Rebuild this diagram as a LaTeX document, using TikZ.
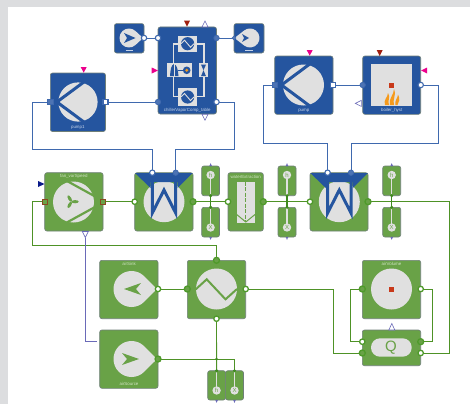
\documentclass[tikz,border=0pt]{standalone}
\usepackage{fontspec}
\setmainfont{Liberation Sans}
\usetikzlibrary{backgrounds}
\definecolor{bblue}{HTML}{25559F}
\definecolor{wblue}{HTML}{3F69AE}
\definecolor{pblue}{HTML}{4D74B4}
\definecolor{bgreen}{HTML}{69A247}
\definecolor{wgreen}{HTML}{4E9226}
\definecolor{pgreen}{HTML}{4F9A2B}
\definecolor{dgreen}{HTML}{3E8A1E}
\definecolor{lgray}{HTML}{E0E0E0}
\definecolor{bggray}{HTML}{DCDDDF}
\definecolor{edge}{HTML}{6F7F78}
\definecolor{purp}{HTML}{6A6AB8}
\definecolor{dred}{HTML}{A02010}
\definecolor{navy}{HTML}{0A1A8A}
\definecolor{brownp}{HTML}{8A4A20}
\definecolor{redsq}{HTML}{C8391A}
\definecolor{flame}{HTML}{F59A1C}
\definecolor{ltblue}{HTML}{C4D2E8}
\definecolor{ltgreen}{HTML}{CFE2C2}
\tikzset{
  blockbase/.style={rectangle,rounded corners=2.2pt,inner sep=0pt,outer sep=0pt,draw=edge,line width=.6pt},
  blueblock/.style={blockbase,fill=bblue},
  greenblock/.style={blockbase,fill=bgreen},
  portbase/.style={circle,inner sep=0pt,outer sep=0pt,minimum size=5.4pt},
  bopen/.style={portbase,fill=white,draw=wblue,line width=1.1pt},
  bfill/.style={portbase,fill=pblue,draw=wblue,line width=.8pt},
  gopen/.style={portbase,fill=white,draw=pgreen,line width=1.3pt},
  gfill/.style={portbase,fill=bgreen,draw=pgreen,line width=1.3pt,minimum size=6pt},
  bsqopen/.style={rectangle,inner sep=0pt,outer sep=0pt,minimum size=5pt,fill=white,draw=wblue,line width=1.1pt},
  bsqfill/.style={rectangle,inner sep=0pt,outer sep=0pt,minimum size=5.4pt,fill=pblue,draw=wblue,line width=.8pt},
  fansq/.style={rectangle,inner sep=0pt,outer sep=0pt,minimum size=5pt,fill=bgreen,draw=brownp,line width=1.1pt},
  dotj/.style={circle,inner sep=0pt,outer sep=0pt,minimum size=3.4pt,fill=dgreen},
  bluewire/.style={draw=wblue,line width=.9pt},
  greenwire/.style={draw=wgreen,line width=.9pt},
  purplewire/.style={draw=purp,line width=.7pt},
  blab/.style={text=ltblue,font=\fontsize{4.4}{5}\selectfont,inner sep=0pt},
  glab/.style={text=ltgreen,font=\fontsize{4.4}{5}\selectfont,inner sep=0pt},
  opentri/.style={draw=purp,fill=white,line width=.6pt},
  sens/.style={text=bgreen,font=\fontsize{6}{6}\selectfont,inner sep=0pt}
}
\newcommand\blk[6]{\pgfmathsetmacro\bw{#4-#2}\pgfmathsetmacro\bh{#5-#3}%
  \node[#6,minimum width=\bw pt,minimum height=\bh pt] (#1) at ({(#2+#4)/2},{(#3+#5)/2}) {};}
% drop: centre, radius, tip offset (signed)
\newcommand\drop[4]{%
  \pgfmathsetmacro\aa{acos(#3/abs(#4))}%
  \ifdim #4pt>0pt
  \fill[lgray] ({#1+#4},#2) -- ({#1+#3*cos(\aa)},{#2+#3*sin(\aa)}) arc[start angle=\aa,end angle=360-\aa,radius=#3] -- cycle;
  \else
  \fill[lgray] ({#1+#4},#2) -- ({#1-#3*cos(\aa)},{#2+#3*sin(\aa)}) arc[start angle=180-\aa,end angle=-180+\aa,radius=#3] -- cycle;
  \fi}
\newcommand\hxw[1]{%
  \begin{scope}[xshift=#1 pt]
  \fill[lgray] (164,201.7) circle[radius=20.5];
  \fill[bblue] (135,173) -- (192.5,173) -- (177.5,188) -- (177.5,182) -- (150.5,182) -- (150.5,188) -- cycle;
  \draw[bblue,line width=3pt,miter limit=10] (152.3,178) -- (152.3,213) -- (164,190) -- (175.7,213) -- (175.7,178);
  \end{scope}}
\newcommand\pumpicon[3]{%
  \fill[lgray] (#1,#2) circle[radius=#3];
  \draw[bblue,line width=3pt] ({#1-#3-1.5},#2) -- ({#1+#3*.3},{#2-#3*1.02});
  \draw[bblue,line width=3pt] ({#1-#3-1.5},#2) -- ({#1+#3*.3},{#2+#3*1.02});}
\newcommand\sensicon[4]{%
  \draw[lgray,line width=1.2pt] (#1,#2) -- (#1,#3);
  \fill[lgray] (#1,#2) circle[radius=4.2];
  \node[sens] at (#1,#2) {#4};}
\newcommand\chx[2]{%
  \fill[lgray] (178.3,#1) rectangle (197,#2);
  \pgfmathsetmacro\cy{(#1+#2)/2}
  \fill[bblue] (187.6,\cy) circle[radius=6.6];
  \draw[lgray,line width=.9pt] (181,\cy) -- (184.5,{\cy-3.5}) -- (190.5,{\cy+3.5}) -- (194,\cy);}
% small tip triangle: up/down at x, apex
\newcommand\tdown[4]{\path[#1] ({#2-3},#3) -- ({#2+3},#3) -- (#2,#4) -- cycle;}
\newcommand\tright[4]{\path[#1] (#2,{#3-3}) -- (#2,{#3+3}) -- (#4,#3) -- cycle;}
\begin{document}
\begin{tikzpicture}[x=1pt,y=-1pt]
\useasboundingbox (0,0) rectangle (470,404);

% ---------- blocks
\blk{srcA}{114.4}{23.6}{144}{53}{blueblock}
\blk{snkA}{234}{23.6}{264}{53}{blueblock}
\blk{chiller}{158}{27}{216.5}{114}{blueblock}
\blk{pumpA}{50.3}{73}{105.5}{131.5}{blueblock}
\blk{pumpB}{274.7}{56}{333}{114.3}{blueblock}
\blk{boiler}{362.7}{56}{420.7}{114.3}{blueblock}
\blk{fan}{44.7}{172.7}{103}{231}{greenblock}
\blk{hxA}{134.7}{172.7}{193}{231}{greenblock}
\blk{hsA}{201.7}{166}{219.5}{195.7}{greenblock}
\blk{xsA}{201.7}{207.3}{219.5}{237}{greenblock}
\blk{water}{228}{172.7}{263.3}{231}{greenblock}
\blk{hsB}{278}{166}{296}{195.7}{greenblock}
\blk{xsB}{278}{207.3}{296}{237}{greenblock}
\blk{hxB}{310}{172.7}{368}{231}{greenblock}
\blk{hsC}{382.7}{166}{400.7}{195.7}{greenblock}
\blk{xsC}{382.7}{207.3}{400.7}{237}{greenblock}
\blk{asink}{99.7}{260.3}{158}{318.7}{greenblock}
\blk{hxC}{187.3}{260.3}{245.7}{318.7}{greenblock}
\blk{asrc}{99.7}{330}{158}{388.3}{greenblock}
\blk{hsD}{207.7}{370.7}{225.6}{400}{greenblock}
\blk{xsD}{225.6}{370.7}{243.5}{400}{greenblock}
\blk{avol}{362.3}{260.3}{420.7}{318.7}{greenblock}
\blk{qblk}{362.3}{330}{420.7}{365.7}{greenblock}

% ---------- icons
\drop{129}{38}{9.5}{14}
\fill[bblue] (135.5,38) -- (124,33) -- (127,38) -- (124,43) -- cycle;
\draw[ltblue,line width=.5pt] (125.5,50) -- (133,50);
\drop{250}{38}{9.5}{-15.5}
\fill[bblue] (249,38) -- (242,34) -- (244,38) -- (242,42) -- cycle;
\draw[ltblue,line width=.5pt] (245,50) -- (253,50);

% chiller internals
\draw[lgray,line width=1.2pt] (173.3,96.7) -- (173.3,44) -- (204,44) -- (204,96.7) -- cycle;
\chx{35.7}{51.7}
\chx{88.3}{105.7}
\fill[lgray] (167.3,63.3) rectangle (192.3,77.3);
\fill[lgray] (199,63.3) rectangle (208,77.3);
\fill[bblue] (201,64.5) -- (206,64.5) -- (203.5,70.3) -- (206,76.2) -- (201,76.2) -- (203.5,70.3) -- cycle;
\fill[bblue] (170,76) .. controls (170.5,70) and (171,65) .. (174,64) .. controls (177,65) and (178,70) .. (178.5,76) -- cycle;
\draw[lgray,line width=.7pt] (174.2,63.5) -- (174.2,76.5);
\draw[bblue,line width=1.2pt] (178,70.3) -- (183,70.3);
\fill[bblue] (186.7,70.3) circle[radius=3.8];
\fill[flame] (186.7,70.3) circle[radius=1.6];

\pumpicon{78}{102}{19.6}
\pumpicon{303.5}{85}{20.5}

% boiler
\fill[lgray] (370.7,64) rectangle (412.3,106);
\fill[redsq] (389,82.5) rectangle (394,87.5);
\fill[flame] (385,105) .. controls (383,100) and (388,97) .. (388,93) .. controls (391,97) and (387,101) .. (389,105) -- cycle;
\fill[flame] (390,105) .. controls (388,99) and (394,95) .. (394,89) .. controls (397,94) and (392,100) .. (394,105) -- cycle;
\fill[flame] (395.5,105) .. controls (394,101) and (398,98) .. (398,94.5) .. controls (400.5,99) and (399,102) .. (397.5,105) -- cycle;

% fan
\fill[lgray] (73.5,202) circle[radius=20.5];
\draw[bgreen,line width=2.2pt] (67,181) -- (97,197.5);
\draw[bgreen,line width=2.2pt] (67,222.4) -- (97,205.9);
\foreach \ang in {0,120,240}{
  \fill[bgreen,shift={(71.5,201.7)},rotate=\ang] (3.6,0) ellipse[x radius=3.6,y radius=1.6];}

\hxw{0}
\hxw{175.3}

% water extraction
\fill[lgray] (236.7,181.7) rectangle (255,222.7);
\draw[bgreen,line width=.9pt,dash pattern=on 4pt off 1.5pt] (245.8,181.7) -- (245.8,222);
\draw[bgreen,line width=1pt] (236.7,214.5) -- (245.8,222) -- (255,214.5);

% sensors
\sensicon{210.6}{175}{195.7}{h}
\sensicon{210.6}{227.5}{207.3}{X}
\sensicon{287}{175}{195.7}{h}
\sensicon{287}{227.5}{207.3}{X}
\sensicon{391.7}{175}{195.7}{h}
\sensicon{391.7}{227.5}{207.3}{X}
\sensicon{216.6}{390.5}{370.7}{h}
\sensicon{234.5}{390.5}{370.7}{X}

% air sink / source
\drop{131.5}{289}{18}{25.5}
\fill[bgreen] (124,289) -- (141,283) -- (136,289) -- (141,295) -- cycle;
\drop{131.5}{359}{18}{25.5}
\fill[bgreen] (139,359) -- (122,353) -- (127,359) -- (122,365) -- cycle;

% HX3 zigzag and circle
\fill[lgray] (216.5,289) circle[radius=20.5];
\draw[bgreen,line width=2pt] (195,290) -- (206.7,279.3) -- (225.5,299.3) -- (237,289);

% air volume
\fill[lgray] (391.5,289) circle[radius=20.5];
\fill[redsq] (389,286.5) rectangle (394,291.5);

% Q
\fill[lgray,rounded corners=9pt] (371,338.3) rectangle (411.7,356.7);
\node[inner sep=0pt,text=bgreen,font=\fontsize{15}{15}\selectfont] (qtxt) at (391,347.5) {Q};

% ---------- labels
\node[blab] (lA) at (77.8,127) {pump1};
\node[blab] (lB) at (303.8,110.3) {pump};
\node[blab] (lC) at (391.7,110.3) {boiler\_hyst};
\node[blab] (lD) at (187.3,110.3) {chillerVaporComp\_table};
\node[glab] (lE) at (73.8,176.7) {fan\_varSpeed};
\node[glab] (lF) at (245.7,176.7) {waterExtraction};
\node[glab] (lG) at (129,264.3) {airSink};
\node[glab] (lH) at (129,384.2) {airSource};
\node[glab] (lI) at (391.5,264.3) {airVolume};

% ---------- ports
\node[bopen] (srcAp) at (144,38) {};
\node[bopen] (chA) at (158,38) {};
\node[bfill] (chB) at (216.5,38) {};
\node[bopen,minimum size=3pt] (snkAp) at (234,38) {};
\node[bfill] (chC) at (158,102) {};
\node[bopen] (chD) at (216.5,102) {};
\node[bsqfill] (puAl) at (50.3,102) {};
\node[bsqopen] (puAr) at (105.5,102) {};
\node[bsqfill] (puBl) at (274.7,85) {};
\node[bsqopen] (puBr) at (333,85) {};
\node[bfill] (boL) at (362.7,85) {};
\node[bopen] (boR) at (420.7,85) {};
\node[bopen] (hxAa) at (152.3,172.7) {};
\node[bfill] (hxAb) at (175.7,172.7) {};
\node[bopen] (hxBa) at (327.6,172.7) {};
\node[bfill] (hxBb) at (351,172.7) {};
\node[fansq] (faL) at (44.7,201.7) {};
\node[fansq] (faR) at (103,201.7) {};
\node[gopen] (hxAl) at (134.7,201.7) {};
\node[gfill] (hxAr) at (193,201.7) {};
\node[gopen] (waL) at (228,201.7) {};
\node[gfill] (waR) at (263.3,201.7) {};
\node[gopen] (hxBl) at (310,201.7) {};
\node[gfill] (hxBr) at (368,201.7) {};
\node[gopen] (siP) at (158,289) {};
\node[gfill] (soP) at (158,359) {};
\node[gfill] (hxCl) at (187.3,289) {};
\node[gfill] (hxCt) at (216.5,260.3) {};
\node[gopen] (hxCr) at (245.7,289) {};
\node[gopen] (hxCb) at (216.5,318.7) {};
\node[gfill] (voL) at (362.3,289) {};
\node[gopen] (voR) at (420.7,289) {};
\node[gopen] (qLa) at (362.3,341.7) {};
\node[gfill] (qLb) at (362.3,353) {};
\node[gfill] (qRa) at (420.7,341.7) {};
\node[gopen] (qRb) at (420.7,353) {};
% sensor junctions
\node[dotj] (jAh) at (210.6,195.7) {};
\node[dotj] (jAx) at (210.6,207.3) {};
\node[dotj] (jBh) at (287,195.7) {};
\node[dotj] (jBx) at (287,207.3) {};
\node[dotj] (jCh) at (391.7,195.7) {};
\node[dotj] (jCx) at (391.7,207.3) {};
\node[dotj] (jDh) at (216.6,370.7) {};
\node[dotj] (jDx) at (234.5,370.7) {};
\node[dotj,minimum size=2.8pt] (jDm) at (216.6,359) {};

% ---------- control triangles
\tright{fill=magenta}{151.7}{70.5}{158}
\tdown{fill=magenta}{83.7}{67}{72.7}
\tdown{fill=magenta}{309.7}{50}{55.7}
\tright{fill=magenta}{427}{70.5}{421}
\tdown{fill=dred}{187}{20.7}{26.7}
\tdown{fill=dred}{379.7}{50}{56}
\tright{fill=navy}{38}{184}{44.5}
\tdown{opentri}{205}{27}{21}
\tdown{opentri}{205}{114.3}{120.3}
\tdown{opentri}{85.3}{231.5}{237.5}
\tdown{opentri}{391.8}{330}{323.5}
\tright{opentri}{361.3}{103.4}{355.3}
\foreach \tx in {210.6,287,391.7}{
  \fill[purp] ({\tx-1.3},166) -- ({\tx+1.3},166) -- (\tx,163.2) -- cycle;
  \fill[purp] ({\tx-1.3},237) -- ({\tx+1.3},237) -- (\tx,239.8) -- cycle;}
\foreach \tx in {216.6,234.5}{
  \fill[purp] ({\tx-1.3},400) -- ({\tx+1.3},400) -- (\tx,402.8) -- cycle;}

% ---------- waypoints
\coordinate (wa) at (32.3,149.3);
\coordinate (wb) at (234,149.3);
\coordinate (wc) at (263,143.7);
\coordinate (wd) at (438.5,143.7);
\coordinate (we) at (32.5,245.5);
\coordinate (wf) at (449.7,353);
\coordinate (wg) at (333,353);
\coordinate (wh) at (350.5,341.7);
\coordinate (wi) at (432.5,341.7);
\coordinate (wj) at (234.5,359);
\coordinate (wk) at (96.7,341.7);
\coordinate (fanctl) at (85.3,237.5);

% ---------- background and connectors
\begin{scope}[on background layer]
\fill[bggray] (0,0) rectangle (470,404);
\fill[white] (8,7) rectangle (470,404);
\draw[bluewire] (srcAp.center) -- (chA.center);
\draw[bluewire] (chB.center) -- (snkAp.center);
\draw[bluewire] (puAr.center) -- (chC.center);
\draw[bluewire] (puBr.center) -- (boL.center);
\draw[bluewire] (puAl.center) -| (wa) -| (hxAa.center);
\draw[bluewire] (chD.center) -| (wb) -| (hxAb.center);
\draw[bluewire] (puBl.center) -| (wc) -| (hxBa.center);
\draw[bluewire] (boR.center) -| (wd) -| (hxBb.center);
\draw[greenwire] (faR.center) -- (hxAl.center);
\draw[greenwire] (hxAr.center) -- (waL.center);
\draw[greenwire] (waR.center) -- (hxBl.center);
\draw[greenwire] (faL.center) -| (we) -| (hxCt.center);
\draw[greenwire] (hxBr.center) -| (wf) -- (qRb.center);
\draw[greenwire] (siP.center) -- (hxCl.center);
\draw[greenwire] (hxCr.center) -| (wg) -- (qLb.center);
\draw[greenwire] (voL.center) -| (wh) -- (qLa.center);
\draw[greenwire] (voR.center) -| (wi) -- (qRa.center);
\draw[greenwire] (soP.center) -| (jDx.center);
\draw[greenwire] (hxCb.center) -- (jDh.center);
\draw[purplewire] (fanctl) |- (wk);
\end{scope}
% sensor stubs above the blocks
\draw[dgreen,line width=1.1pt] (jAh.center) -- (jAx.center);
\draw[dgreen,line width=1.1pt] (jBh.center) -- (jBx.center);
\draw[dgreen,line width=1.1pt] (jCh.center) -- (jCx.center);
\end{tikzpicture}
\end{document}
